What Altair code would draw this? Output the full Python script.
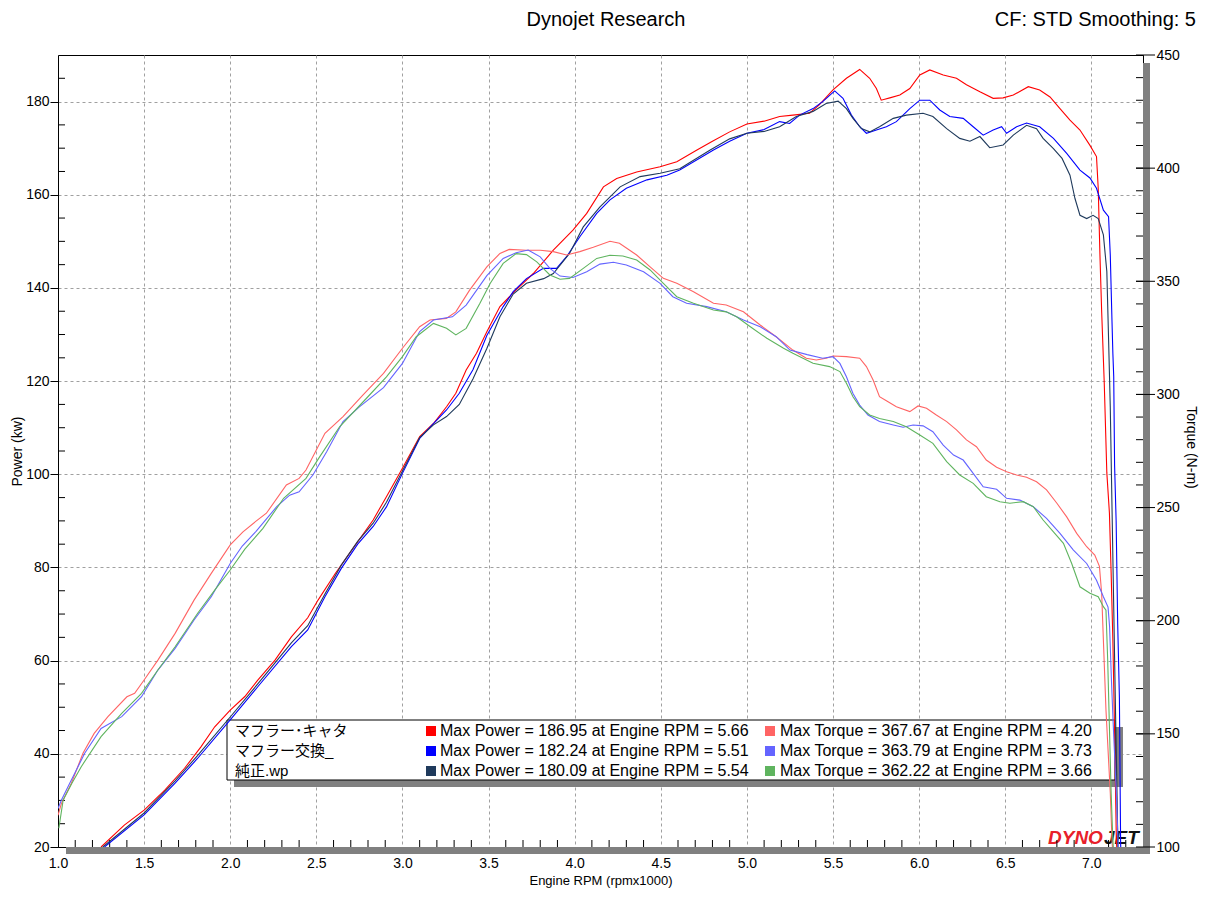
"""Dyno chart: power and torque for three exhaust setups."""
import altair as alt
import pandas as pd

FONT = "Liberation Sans"
CJK_FONT = "Liberation Sans, Noto Sans CJK JP"

# legend box contents
RUN_NAMES = ["マフラー･キャタ", "マフラー交換_", "純正.wp"]
MAX_POWER = ["186.95", "182.24", "180.09"]
MAX_POWER_RPM = ["5.66", "5.51", "5.54"]
MAX_TORQUE = ["367.67", "363.79", "362.22"]
MAX_TORQUE_RPM = ["4.20", "3.73", "3.66"]

SERIES = ["power_a", "power_b", "power_c", "torque_a", "torque_b", "torque_c"]
COLOURS = ["#ff0000", "#0000ff", "#1f3a5c", "#ff6464", "#6464ff", "#5fb45f"]

X_TICKS = [1.0, 1.5, 2.0, 2.5, 3.0, 3.5, 4.0, 4.5, 5.0, 5.5, 6.0, 6.5, 7.0]
POWER_TICKS = [20, 40, 60, 80, 100, 120, 140, 160, 180]
TORQUE_TICKS = [100, 150, 200, 250, 300, 350, 400, 450]
X_MINOR = [round(1 + 0.1 * i, 1) for i in range(1, 63) if i % 5]
POWER_MINOR = [v for v in range(25, 190, 5) if v % 20]
TORQUE_MINOR = list(range(110, 450, 10))

# power (kw) per run
PW_A_RPM = [1.25, 1.385, 1.50, 1.62, 1.735, 1.83, 1.91, 2.0, 2.085, 2.16, 2.26, 2.355,
            2.45, 2.51, 2.61, 2.713, 2.83, 2.907, 3.0, 3.10, 3.18, 3.256, 3.31, 3.37,
            3.43, 3.49, 3.566, 3.66, 3.76, 3.876, 3.99, 4.07, 4.167, 4.244, 4.36, 4.496,
            4.593, 4.71, 4.80, 4.90, 5.00, 5.10, 5.19, 5.267, 5.364, 5.42, 5.50, 5.578,
            5.655, 5.713, 5.752, 5.78, 5.83, 5.888, 5.946, 6.004, 6.062, 6.14, 6.217,
            6.275, 6.353, 6.43, 6.488, 6.547, 6.634, 6.70, 6.76, 6.818, 6.876, 6.934,
            6.992, 7.03, 7.04, 7.05, 7.06, 7.075, 7.09, 7.105, 7.115, 7.125, 7.135,
            7.145, 7.15]
PW_A_KW = [20.0, 24.7, 27.9, 32.2, 36.9, 41.5, 45.8, 49.4, 52.3, 55.8, 60.1, 65.1,
           69.2, 73.0, 78.7, 84.1, 90.2, 95.2, 101.3, 108.1, 110.9, 114.5, 117.4, 122.4,
           126.0, 130.6, 136.0, 139.6, 143.1, 148.1, 152.4, 156.0, 161.7, 163.5, 164.9,
           166.0, 167.1, 169.6, 171.5, 173.5, 175.2, 175.8, 176.8, 177.1, 177.5, 179.3,
           182.5, 185.0, 186.9, 185.0, 182.8, 180.3, 180.8, 181.4, 182.8, 185.7, 186.8,
           185.7, 185.0, 183.6, 182.1, 180.7, 180.8, 181.4, 183.2, 182.5, 181.0, 178.5,
           176.0, 173.9, 170.6, 168.2, 161.4, 147.1, 134.9, 119.6, 100.3, 91.7, 78.8,
           64.4, 45.0, 22.0, 18.0]

PW_B_RPM = [1.27, 1.50, 1.68, 1.81, 2.0, 2.16, 2.355, 2.45, 2.55, 2.645, 2.74, 2.83,
            2.907, 3.0, 3.10, 3.18, 3.256, 3.33, 3.41, 3.49, 3.585, 3.643, 3.72, 3.818,
            3.895, 3.953, 4.03, 4.128, 4.205, 4.30, 4.42, 4.535, 4.61, 4.806, 4.90, 5.00,
            5.10, 5.19, 5.248, 5.306, 5.384, 5.44, 5.51, 5.558, 5.607, 5.655, 5.694,
            5.752, 5.81, 5.868, 5.946, 6.004, 6.062, 6.12, 6.178, 6.256, 6.314, 6.372,
            6.43, 6.479, 6.508, 6.566, 6.624, 6.70, 6.78, 6.857, 6.934, 6.992, 7.03,
            7.07, 7.10, 7.11, 7.12, 7.125, 7.13, 7.135, 7.144, 7.153, 7.163, 7.17, 7.172]
PW_B_KW = [20.0, 26.9, 33.7, 39.0, 47.3, 54.4, 63.0, 66.6, 73.7, 79.8, 85.0, 88.8,
           93.0, 100.2, 107.7, 110.9, 113.8, 117.4, 122.5, 129.8, 136.0, 139.2, 142.0,
           144.2, 144.2, 146.7, 151.0, 156.0, 158.9, 161.4, 163.2, 164.2, 165.3, 169.6,
           171.5, 173.2, 174.0, 175.7, 175.3, 177.1, 178.5, 180.0, 182.3, 180.7, 177.1,
           174.6, 173.2, 173.9, 174.6, 175.7, 178.5, 180.3, 180.3, 178.2, 176.8, 176.4,
           174.6, 172.8, 173.9, 174.6, 173.2, 174.6, 175.4, 174.6, 172.1, 168.9, 165.3,
           163.6, 161.4, 156.7, 155.3, 147.1, 132.8, 126.0, 121.0, 102.0, 90.0, 68.0,
           52.0, 21.0, 18.0]

PW_C_RPM = [1.26, 1.50, 1.68, 1.81, 2.0, 2.16, 2.355, 2.45, 2.55, 2.645, 2.74, 2.83,
            2.907, 3.0, 3.10, 3.18, 3.256, 3.33, 3.41, 3.49, 3.566, 3.643, 3.72, 3.82,
            3.876, 3.97, 4.05, 4.147, 4.264, 4.38, 4.496, 4.61, 4.787, 4.90, 5.00, 5.10,
            5.19, 5.287, 5.384, 5.46, 5.53, 5.578, 5.616, 5.665, 5.713, 5.77, 5.85,
            5.926, 6.023, 6.08, 6.16, 6.236, 6.295, 6.353, 6.41, 6.488, 6.547, 6.624,
            6.682, 6.72, 6.78, 6.83, 6.876, 6.905, 6.934, 6.973, 7.01, 7.04, 7.07, 7.09,
            7.10, 7.11, 7.12, 7.13, 7.14, 7.15, 7.155]
PW_C_KW = [20.0, 27.3, 34.2, 39.6, 47.9, 55.0, 63.8, 67.5, 74.3, 80.5, 85.6, 89.5,
           94.0, 100.7, 107.9, 110.6, 112.4, 115.0, 120.5, 127.0, 133.8, 138.7, 141.0,
           142.0, 143.1, 147.4, 153.1, 157.4, 161.7, 163.9, 164.6, 165.6, 169.6, 172.0,
           173.2, 173.6, 174.6, 176.8, 177.9, 179.6, 180.1, 178.5, 176.4, 174.2, 173.5,
           174.6, 176.4, 177.1, 177.5, 176.8, 174.2, 172.1, 171.5, 172.5, 170.1, 170.7,
           172.8, 174.9, 174.2, 172.1, 169.9, 167.8, 164.2, 159.2, 155.6, 154.9, 155.6,
           154.9, 151.4, 143.5, 129.2, 114.4, 93.0, 71.5, 50.0, 30.0, 18.0]

# torque (N-m) per run
TQ_A_RPM = [1.00, 1.02, 1.077, 1.145, 1.21, 1.29, 1.40, 1.445, 1.50, 1.58, 1.68, 1.79,
            1.89, 2.00, 2.074, 2.15, 2.21, 2.326, 2.40, 2.44, 2.55, 2.655, 2.77, 2.89,
            3.00, 3.10, 3.16, 3.255, 3.31, 3.39, 3.49, 3.566, 3.62, 3.72, 3.80, 3.876,
            3.953, 4.03, 4.108, 4.205, 4.26, 4.36, 4.438, 4.515, 4.593, 4.69, 4.806,
            4.88, 4.98, 5.077, 5.17, 5.267, 5.345, 5.403, 5.46, 5.50, 5.578, 5.655,
            5.694, 5.733, 5.77, 5.81, 5.868, 5.946, 5.994, 6.043, 6.10, 6.16, 6.217,
            6.275, 6.333, 6.39, 6.45, 6.508, 6.566, 6.624, 6.682, 6.74, 6.80, 6.857,
            6.915, 6.973, 7.02, 7.047, 7.06, 7.085, 7.11, 7.12, 7.125]
TQ_A_NM = [114.0, 119.3, 128.1, 141.4, 150.2, 157.6, 166.4, 167.9, 173.8, 182.6, 194.4,
           209.1, 220.9, 233.5, 239.3, 244.0, 247.5, 260.0, 262.9, 266.6, 282.8, 290.2,
           299.7, 309.3, 320.4, 329.9, 332.9, 333.6, 336.5, 346.1, 356.4, 362.3, 364.1,
           363.7, 363.7, 363.1, 361.6, 363.1, 365.0, 367.7, 366.8, 361.6, 356.4, 351.3,
           349.1, 345.4, 340.3, 339.5, 336.5, 330.7, 325.5, 319.6, 316.0, 315.2, 316.0,
           317.0, 316.7, 316.0, 312.3, 306.4, 299.0, 297.2, 294.6, 292.4, 294.9, 293.9,
           290.9, 288.0, 284.3, 279.9, 276.9, 271.0, 267.8, 265.8, 264.4, 263.4, 261.4,
           257.8, 251.9, 245.9, 238.6, 232.7, 229.0, 224.0, 212.0, 160.5, 124.0, 103.0,
           97.0]

TQ_B_RPM = [1.00, 1.02, 1.058, 1.155, 1.25, 1.37, 1.485, 1.58, 1.68, 1.79, 1.89, 2.00,
            2.07, 2.15, 2.27, 2.345, 2.40, 2.48, 2.56, 2.655, 2.75, 2.89, 3.00, 3.10,
            3.18, 3.29, 3.37, 3.49, 3.585, 3.66, 3.73, 3.80, 3.856, 3.915, 3.99, 4.07,
            4.147, 4.225, 4.30, 4.40, 4.496, 4.57, 4.65, 4.767, 4.88, 4.98, 5.077, 5.17,
            5.25, 5.35, 5.44, 5.50, 5.54, 5.578, 5.616, 5.655, 5.703, 5.77, 5.85, 5.907,
            5.965, 6.023, 6.08, 6.14, 6.20, 6.256, 6.314, 6.372, 6.45, 6.508, 6.585,
            6.663, 6.74, 6.818, 6.896, 6.973, 7.03, 7.07, 7.097, 7.106, 7.116, 7.126,
            7.145, 7.155, 7.16]
TQ_B_NM = [117.0, 120.8, 126.6, 141.4, 152.4, 157.6, 166.4, 178.2, 187.8, 200.3, 210.6,
           225.3, 233.0, 239.5, 250.4, 255.5, 257.0, 264.4, 274.7, 288.0, 294.5, 303.0,
           313.7, 327.8, 332.9, 334.3, 339.5, 352.5, 360.1, 362.6, 363.8, 360.8, 355.7,
           352.3, 351.7, 354.2, 357.6, 358.4, 357.2, 354.2, 349.1, 343.2, 340.3, 338.8,
           336.5, 332.9, 329.9, 325.5, 319.6, 317.6, 316.0, 316.7, 313.7, 307.8, 300.4,
           295.3, 290.9, 288.0, 286.5, 285.5, 286.5, 286.1, 283.5, 277.6, 273.2, 271.0,
           265.1, 259.2, 258.1, 254.1, 253.3, 250.4, 245.2, 238.6, 231.2, 225.3, 217.9,
           210.6, 206.0, 197.4, 175.3, 156.1, 123.8, 103.0, 97.0]

TQ_C_RPM = [1.005, 1.03, 1.08, 1.135, 1.25, 1.37, 1.485, 1.58, 1.68, 1.81, 1.91, 2.00,
            2.085, 2.19, 2.31, 2.44, 2.52, 2.635, 2.79, 2.907, 3.00, 3.08, 3.18, 3.256,
            3.31, 3.37, 3.45, 3.51, 3.585, 3.66, 3.72, 3.78, 3.856, 3.915, 3.97, 4.05,
            4.128, 4.205, 4.28, 4.36, 4.438, 4.515, 4.593, 4.69, 4.806, 4.88, 4.94,
            5.02, 5.116, 5.213, 5.267, 5.384, 5.48, 5.54, 5.578, 5.616, 5.655, 5.713,
            5.77, 5.85, 5.926, 6.004, 6.08, 6.16, 6.236, 6.314, 6.39, 6.469, 6.527,
            6.605, 6.663, 6.72, 6.78, 6.838, 6.886, 6.934, 6.992, 7.04, 7.07, 7.085,
            7.095, 7.105, 7.115, 7.125, 7.13]
TQ_C_NM = [108.3, 120.8, 128.1, 135.5, 148.8, 159.1, 167.9, 178.2, 188.5, 203.2, 213.5,
           222.4, 231.6, 240.8, 254.1, 262.9, 272.5, 285.7, 298.2, 307.8, 316.7, 325.5,
           331.4, 329.2, 326.3, 329.2, 340.3, 349.1, 357.9, 362.2, 361.8, 358.6, 352.8,
           350.9, 351.3, 355.7, 360.1, 361.5, 361.2, 359.4, 355.0, 349.1, 343.2, 340.3,
           337.3, 336.5, 334.3, 329.9, 324.8, 320.4, 318.2, 313.8, 312.3, 310.1, 304.9,
           299.0, 294.6, 290.9, 289.4, 288.0, 285.7, 282.1, 278.4, 270.3, 264.4, 260.7,
           254.8, 252.6, 251.9, 252.6, 250.4, 244.5, 239.3, 234.2, 225.3, 215.0, 212.1,
           210.6, 206.2, 204.7, 182.6, 153.2, 123.8, 103.0, 97.0]


def make_frame(keys, rpms, values, col):
    """Stacks the runs into one long table."""
    frames = [pd.DataFrame({"rpm": r, col: v, "series": k})
              for k, r, v in zip(keys, rpms, values)]
    return pd.concat(frames, ignore_index=True)


power_df = make_frame(SERIES[:3], [PW_A_RPM, PW_B_RPM, PW_C_RPM],
                      [PW_A_KW, PW_B_KW, PW_C_KW], "kw")
torque_df = make_frame(SERIES[3:], [TQ_A_RPM, TQ_B_RPM, TQ_C_RPM],
                       [TQ_A_NM, TQ_B_NM, TQ_C_NM], "nm")

legend_df = pd.DataFrame({
    "row": [0, 1, 2],
    "name": RUN_NAMES,
    "power_key": SERIES[:3],
    "torque_key": SERIES[3:],
    "power_text": [f"Max Power = {p} at Engine RPM = {r}"
                   for p, r in zip(MAX_POWER, MAX_POWER_RPM)],
    "torque_text": [f"Max Torque = {t} at Engine RPM = {r}"
                    for t, r in zip(MAX_TORQUE, MAX_TORQUE_RPM)],
})
one = pd.DataFrame({"k": [0]})

colour_scale = alt.Scale(domain=SERIES, range=COLOURS)
grid_style = dict(grid=True, gridDash=[3, 3], gridColor="#a0a0a0", gridWidth=1)

x_enc = alt.X("rpm:Q", scale=alt.Scale(domain=[1.0, 7.3], nice=False, zero=False),
              axis=alt.Axis(values=X_TICKS, format=".1f", title="Engine RPM (rpmx1000)",
                            ticks=False, labelPadding=9, labelFlush=False,
                            titleFontSize=13, titleY=27, **grid_style))
power_y = alt.Y("kw:Q", scale=alt.Scale(domain=[20, 190], nice=False, zero=False),
                axis=alt.Axis(orient="left", values=POWER_TICKS, title="Power (kw)",
                              tickSize=8, labelPadding=1, labelFlush=False,
                              titleX=-41, titleY=396,
                              titleAngle=270, titleBaseline="middle", **grid_style))
torque_y = alt.Y("nm:Q", scale=alt.Scale(domain=[100, 450], nice=False, zero=False),
                 axis=alt.Axis(orient="right", values=TORQUE_TICKS, title="Torque (N-m)",
                               ticks=False, tickSize=0, labelPadding=13, labelFlush=False,
                               titleX=47, titleY=392, titleAngle=90,
                               titleBaseline="middle", grid=False))


def rect(x, x2, y, y2, **style):
    return alt.Chart(one).mark_rect(**style).encode(
        x=alt.value(x), x2=alt.value(x2), y=alt.value(y), y2=alt.value(y2))


def label(text, x, y, **style):
    return alt.Chart(one).mark_text(text=text, **style).encode(
        x=alt.value(x), y=alt.value(y))


row_y = alt.Y("row:Q", scale=alt.Scale(domain=[0, 2], range=[676, 716]), axis=None)
legend_base = alt.Chart(legend_df).encode(y=row_y)
legend_text = dict(align="left", baseline="middle", font=FONT, fontSize=16, color="black")

decor = alt.layer(
    rect(1085, 1092, 8, 799, color="#808080"),
    rect(8, 1092, 792, 799, color="#808080"),
    label("DYNO", 990, 789, font=FONT, fontSize=19, fontWeight="bold",
          fontStyle="italic", color="#e8202a", align="left", baseline="alphabetic"),
    label("JET", 1046, 789, font=FONT, fontSize=19, fontWeight="bold",
          fontStyle="italic", color="#111111", align="left", baseline="alphabetic"),
    label("Dynojet Research", 548, -35, font=FONT, fontSize=20, color="black",
          align="center", baseline="middle"),
    label("CF: STD Smoothing: 5", 1138, -35, font=FONT, fontSize=20, color="black",
          align="right", baseline="middle"),
    rect(176, 1065, 672, 732, color="#808080"),
    rect(169, 1057, 665, 725, fill="white", stroke="black", strokeWidth=1),
    legend_base.mark_text(align="left", baseline="middle", font=CJK_FONT, fontSize=15,
                          color="black").encode(x=alt.value(177), text="name:N"),
    legend_base.mark_square(size=100, opacity=1).encode(
        x=alt.value(373), color=alt.Color("power_key:N", scale=colour_scale, legend=None)),
    legend_base.mark_text(**legend_text).encode(x=alt.value(382), text="power_text:N"),
    legend_base.mark_square(size=100, opacity=1).encode(
        x=alt.value(712), color=alt.Color("torque_key:N", scale=colour_scale, legend=None)),
    legend_base.mark_text(**legend_text).encode(x=alt.value(722), text="torque_text:N"),
)

x_minor = alt.Chart(pd.DataFrame({"rpm": X_MINOR})).mark_rule(color="black").encode(
    x=x_enc, y=alt.value(785), y2=alt.value(792))
power_minor = alt.Chart(pd.DataFrame({"kw": POWER_MINOR})).mark_rule(color="black").encode(
    y=power_y, x=alt.value(0), x2=alt.value(7))
power_lines = alt.Chart(power_df).mark_line(strokeWidth=1.1, clip=True).encode(
    x=x_enc, y=power_y,
    color=alt.Color("series:N", scale=colour_scale, legend=None))
power_layer = alt.layer(x_minor, power_minor, power_lines)

torque_minor = alt.Chart(pd.DataFrame({"nm": TORQUE_MINOR})).mark_rule(color="black").encode(
    y=torque_y, x=alt.value(1078), x2=alt.value(1085))
torque_major = alt.Chart(pd.DataFrame({"nm": TORQUE_TICKS})).mark_rule(color="black").encode(
    y=torque_y, x=alt.value(1078), x2=alt.value(1097))
torque_lines = alt.Chart(torque_df).mark_line(strokeWidth=1.1, clip=True).encode(
    x=x_enc, y=torque_y,
    color=alt.Color("series:N", scale=colour_scale, legend=None))
torque_layer = alt.layer(torque_minor, torque_major, torque_lines)

chart = alt.layer(decor, power_layer, torque_layer).resolve_scale(
    y="independent"
).properties(
    width=1085, height=792,
    autosize=alt.AutoSizeParams(type="none"),
    padding={"left": 50, "top": 47, "right": 60, "bottom": 50},
    background="white",
).configure_view(
    stroke="black", strokeWidth=1
).configure_axis(
    labelFont=FONT, labelFontSize=14, labelColor="black",
    titleFont=FONT, titleFontSize=14, titleColor="black", titleFontWeight="normal",
    domainColor="black", tickColor="black"
)

chart.save("out.html", embed_options={"renderer": "svg", "actions": False})
